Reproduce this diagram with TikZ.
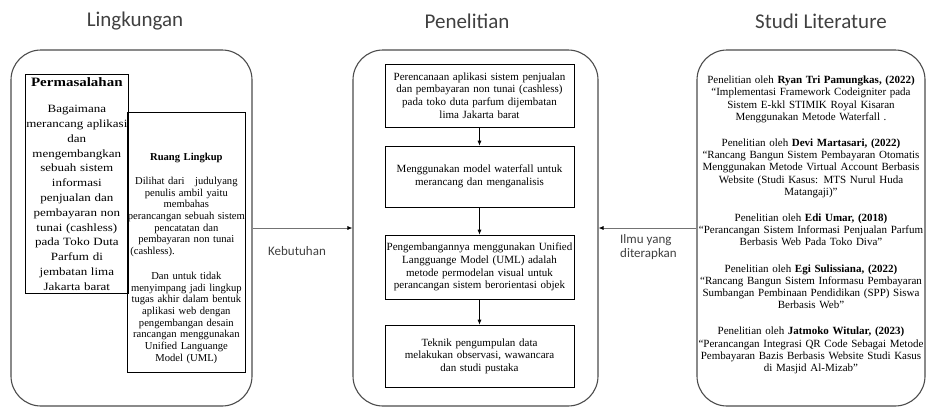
\documentclass[tikz,border=0pt]{standalone}
\usepackage{fontspec}
\setmainfont{Liberation Serif}
\newfontfamily\calib{Carlito}
\newfontfamily\wideserif[FakeStretch=1.17]{Liberation Serif}
\usetikzlibrary{arrows.meta}
\tikzset{>={Latex[length=5pt,width=4pt]}}

\begin{document}
\begin{tikzpicture}[x=1pt,y=-1pt,
    frame/.style={draw=black!70, line width=1.1pt, rounded corners=30pt},
    box/.style={draw, line width=0.7pt, inner sep=0pt, align=center},
    stepbox/.style={box, minimum width=189pt, text width=187pt, font=\fontsize{11}{12.65}\selectfont},
    heading/.style={font=\calib\fontsize{21}{25}\selectfont, text=black!75},
    label/.style={font=\calib\fontsize{13}{13.5}\selectfont, text=black!75, align=left, inner sep=0pt},
    link/.style={-{Latex[length=5pt,width=4pt,color=black]}, draw=black!55, line width=0.7pt},
    flow/.style={->, line width=0.7pt}]
    \useasboundingbox (0,0) rectangle (928,410);
    % judul kolom
    \node[heading] (hLing) at (135,21) {Lingkungan};
    \node[heading] (hPen) at (467,21) {Penelitian};
    \node[heading] (hStudi) at (821,21) {Studi Literature};
    % bingkai besar
    \node[frame, minimum width=241pt, minimum height=356pt] (lingk) at (131.5,228) {};
    \node[frame, minimum width=245pt, minimum height=356pt] (penel) at (475.5,228) {};
    \node[frame, minimum width=228pt, minimum height=356pt] (studi) at (811,228) {};
    % lingkungan
    \node[box, anchor=north west, minimum width=103pt, minimum height=219pt, text width=103pt,
        font=\wideserif\fontsize{11.1}{14.8}\selectfont] (masalah) at (25,74)
        {{\fontsize{12.8}{14.8}\selectfont\textbf{Permasalahan}}\\[11.9pt]
        Bagaimana\\ merancang aplikasi\\ dan\\ mengembangkan\\ sebuah sistem\\ informasi\\
        penjualan dan\\ pembayaran non\\ tunai (cashless)\\ pada Toko Duta\\ Parfum di\\
        jembatan lima\\ Jakarta barat};
    \node[box, anchor=north west, minimum width=118pt, minimum height=260pt] (lingkup) at (127,112) {};
    \node[anchor=south, text width=120pt, inner sep=0pt, align=center,
        font=\fontsize{10.6}{11.7}\selectfont] (lingkupIsi) at ([yshift=9pt]lingkup.south)
        {\textbf{Ruang Lingkup}\\[12pt]
        Dilihat dari~~~judulyang\\ penulis ambil yaitu\\ membahas\\ perancangan sebuah sistem\\
        pencatatan dan\\ pembayaran non tunai\\ \makebox[112pt][l]{(cashless).}\\[13pt]
        Dan untuk tidak\\ menyimpang jadi lingkup\\ tugas akhir dalam bentuk\\ aplikasi web dengan\\
        pengembangan desain\\ rancangan menggunakan\\ Unified Languange\\ Model (UML)};
    % penelitian
    \node[stepbox, minimum height=63pt] (s1) at (479.5,95.5)
        {Perencanaan aplikasi sistem penjualan\\ dan pembayaran non tunai (cashless)\\
        pada toko duta parfum dijembatan\\ lima Jakarta barat};
    \node[stepbox, minimum height=61pt] (s2) at (479.5,176.5)
        {Menggunakan model waterfall untuk\\ merancang dan menganalisis};
    \node[stepbox, minimum height=64pt] (s3) at (479.5,267)
        {Pengembangannya menggunakan Unified\\ Langguange Model (UML) adalah\\
        metode permodelan visual untuk\\ perancangan sistem berorientasi objek};
    \node[stepbox, minimum height=62pt] (s4) at (479.5,356)
        {Teknik pengumpulan data\\ melakukan observasi, wawancara\\ dan studi pustaka};
    \draw[flow] (s1) -- (s2);
    \draw[flow] (s2) -- (s3);
    \draw[flow] (s3) -- (s4);
    % studi literature
    \node[text width=228pt, inner sep=0pt, align=center, font=\fontsize{11}{12.2}\selectfont]
        (studiIsi) at (811,225)
        {Penelitian oleh \textbf{Ryan Tri Pamungkas, (2022)}\\
        ``Implementasi Framework Codeigniter pada\\ Sistem E-kkl STIMIK Royal Kisaran\\
        Menggunakan Metode Waterfall .\\[14pt]
        Penelitian oleh \textbf{Devi Martasari, (2022)}\\
        ``Rancang Bangun Sistem Pembayaran Otomatis\\ Menggunakan Metode Virtual Account Berbasis\\
        Website (Studi Kasus: MTS Nurul Huda\\ Matangaji)''\\[14pt]
        Penelitian oleh \textbf{Edi Umar, (2018)}\\
        ``Perancangan Sistem Informasi Penjualan Parfum\\ Berbasis Web Pada Toko Diva''\\[14pt]
        Penelitian oleh \textbf{Egi Sulissiana, (2022)}\\
        ``Rancang Bangun Sistem Informasu Pembayaran\\ Sumbangan Pembinaan Pendidikan (SPP) Siswa\\
        Berbasis Web''\\[14pt]
        Penelitian oleh \textbf{Jatmoko Witular, (2023)}\\
        ``Perancangan Integrasi QR Code Sebagai Metode\\ Pembayaran Bazis Berbasis Website Studi Kasus\\
        di Masjid Al-Mizab''};
    % hubungan antar kolom
    \draw[link] (lingk) -- (penel);
    \draw[link] (studi) -- (penel);
    \node[label] (kebutuhan) at (297,251) {Kebutuhan};
    \node[label, anchor=west] (ilmu) at (620,247) {Ilmu yang\\ diterapkan};
\end{tikzpicture}
\end{document}
